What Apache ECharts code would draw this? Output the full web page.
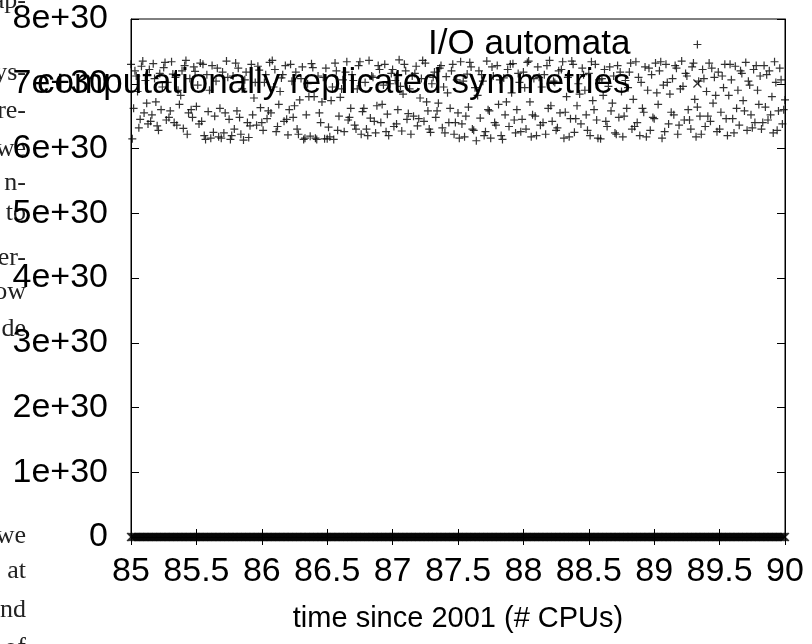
<!DOCTYPE html>
<html>
<head>
<meta charset="utf-8">
<title>I/O automata vs. computationally replicated symmetries</title>
<script src="https://cdn.jsdelivr.net/npm/echarts@6/dist/echarts.min.js"></script>
<style>
  html, body { margin: 0; padding: 0; background: #fff; }
  #chart { width: 812px; height: 644px; }
</style>
</head>
<body>
<div id="chart"></div>
<script>
// x positions shared by both series (time since 2001)
const timeX = [
  85.00, 85.01, 85.02, 85.04, 85.05, 85.07, 85.08, 85.10, 85.11, 85.13,
  85.14, 85.16, 85.17, 85.19, 85.20, 85.22, 85.23, 85.25, 85.27, 85.28,
  85.30, 85.31, 85.33, 85.34, 85.36, 85.37, 85.39, 85.40, 85.42, 85.44,
  85.45, 85.47, 85.48, 85.50, 85.51, 85.53, 85.54, 85.56, 85.58, 85.59,
  85.61, 85.62, 85.64, 85.65, 85.67, 85.68, 85.70, 85.71, 85.73, 85.75,
  85.76, 85.78, 85.79, 85.81, 85.82, 85.84, 85.85, 85.87, 85.89, 85.90,
  85.92, 85.93, 85.95, 85.96, 85.98, 85.99, 86.01, 86.03, 86.04, 86.06,
  86.07, 86.09, 86.10, 86.12, 86.13, 86.15, 86.17, 86.18, 86.20, 86.21,
  86.23, 86.24, 86.26, 86.27, 86.29, 86.31, 86.32, 86.34, 86.35, 86.37,
  86.38, 86.40, 86.41, 86.43, 86.45, 86.46, 86.48, 86.49, 86.51, 86.52,
  86.54, 86.55, 86.57, 86.59, 86.60, 86.62, 86.63, 86.65, 86.66, 86.68,
  86.69, 86.71, 86.73, 86.74, 86.76, 86.77, 86.79, 86.80, 86.82, 86.83,
  86.85, 86.87, 86.88, 86.90, 86.91, 86.93, 86.94, 86.96, 86.97, 86.99,
  87.01, 87.02, 87.04, 87.05, 87.07, 87.08, 87.10, 87.11, 87.13, 87.15,
  87.16, 87.18, 87.19, 87.21, 87.22, 87.24, 87.25, 87.27, 87.29, 87.30,
  87.32, 87.33, 87.35, 87.36, 87.38, 87.39, 87.41, 87.43, 87.44, 87.46,
  87.47, 87.49, 87.50, 87.52, 87.53, 87.55, 87.57, 87.58, 87.60, 87.61,
  87.63, 87.64, 87.66, 87.67, 87.69, 87.71, 87.72, 87.74, 87.75, 87.77,
  87.78, 87.80, 87.81, 87.83, 87.85, 87.86, 87.88, 87.89, 87.91, 87.92,
  87.94, 87.95, 87.97, 87.99, 88.00, 88.02, 88.03, 88.05, 88.06, 88.08,
  88.09, 88.11, 88.13, 88.14, 88.16, 88.17, 88.19, 88.20, 88.22, 88.23,
  88.25, 88.27, 88.28, 88.30, 88.31, 88.33, 88.34, 88.36, 88.37, 88.39,
  88.41, 88.42, 88.44, 88.45, 88.47, 88.48, 88.50, 88.51, 88.53, 88.55,
  88.56, 88.58, 88.59, 88.61, 88.62, 88.64, 88.65, 88.67, 88.69, 88.70,
  88.72, 88.73, 88.75, 88.76, 88.78, 88.79, 88.81, 88.83, 88.84, 88.86,
  88.87, 88.89, 88.90, 88.92, 88.93, 88.95, 88.97, 88.98, 89.00, 89.01,
  89.03, 89.04, 89.06, 89.07, 89.09, 89.11, 89.12, 89.14, 89.15, 89.17,
  89.18, 89.20, 89.21, 89.23, 89.25, 89.26, 89.28, 89.29, 89.31, 89.32,
  89.34, 89.35, 89.37, 89.39, 89.40, 89.42, 89.43, 89.45, 89.46, 89.48,
  89.49, 89.51, 89.53, 89.54, 89.56, 89.57, 89.59, 89.60, 89.62, 89.63,
  89.65, 89.67, 89.68, 89.70, 89.71, 89.73, 89.74, 89.76, 89.77, 89.79,
  89.81, 89.82, 89.84, 89.85, 89.87, 89.88, 89.90, 89.91, 89.93, 89.95,
  89.96, 89.98, 90.00,
  // second sweep
  85.03, 85.06, 85.09, 85.12, 85.15, 85.18, 85.21, 85.24, 85.26, 85.29,
  85.32, 85.35, 85.38, 85.41, 85.43, 85.46, 85.49, 85.52, 85.55, 85.57,
  85.60, 85.63, 85.66, 85.69, 85.72, 85.74, 85.77, 85.80, 85.83, 85.86,
  85.88, 85.91, 85.94, 85.97, 86.00, 86.02, 86.05, 86.08, 86.11, 86.14,
  86.16, 86.19, 86.22, 86.25, 86.28, 86.30, 86.33, 86.36, 86.39, 86.42,
  86.44, 86.47, 86.50, 86.53, 86.56, 86.58, 86.61, 86.64, 86.67, 86.70,
  86.72, 86.75, 86.78, 86.81, 86.84, 86.86, 86.89, 86.92, 86.95, 86.98,
  87.00, 87.03, 87.06, 87.09, 87.12, 87.14, 87.17, 87.20, 87.23, 87.26,
  87.28, 87.31, 87.34, 87.37, 87.40, 87.42, 87.45, 87.48, 87.51, 87.54,
  87.56, 87.59, 87.62, 87.65, 87.68, 87.70, 87.73, 87.76, 87.79, 87.82,
  87.84, 87.87, 87.90, 87.93, 87.96, 87.98, 88.01, 88.04, 88.07, 88.10,
  88.12, 88.15, 88.18, 88.21, 88.24, 88.26, 88.29, 88.32, 88.35, 88.38,
  88.40, 88.43, 88.46, 88.49, 88.52, 88.54, 88.57, 88.60, 88.63, 88.66,
  88.68, 88.71, 88.74, 88.77, 88.80, 88.82, 88.85, 88.88, 88.91, 88.94,
  88.96, 88.99, 89.02, 89.05, 89.08, 89.10, 89.13, 89.16, 89.19, 89.22,
  89.24, 89.27, 89.30, 89.33, 89.36, 89.38, 89.41, 89.44, 89.47, 89.50,
  89.52, 89.55, 89.58, 89.61, 89.64, 89.66, 89.69, 89.72, 89.75, 89.78,
  89.80, 89.83, 89.86, 89.89, 89.92, 89.94, 89.97, 89.99
];

// "I/O automata" values, same order as timeX
const ioAutomata = [
  7.30e30, 6.15e30, 6.62e30, 7.12e30, 6.88e30, 6.45e30, 7.27e30, 6.55e30, 7.05e30, 6.38e30,
  7.22e30, 6.52e30, 7.31e30, 6.72e30, 6.35e30, 7.16e30, 6.60e30, 7.25e30, 6.44e30, 7.02e30,
  6.58e30, 7.34e30, 6.40e30, 7.10e30, 6.90e30, 6.68e30, 7.20e30, 6.31e30, 7.36e30, 6.55e30,
  7.08e30, 6.48e30, 7.26e30, 6.65e30, 6.98e30, 7.32e30, 6.42e30, 6.20e30, 7.14e30, 6.57e30,
  6.16e30, 7.28e30, 6.50e30, 7.04e30, 6.18e30, 6.62e30, 7.18e30, 6.24e30, 7.35e30, 6.45e30,
  6.14e30, 7.12e30, 6.30e30, 6.58e30, 7.24e30, 6.22e30, 6.92e30, 7.06e30, 6.40e30, 6.17e30,
  7.30e30, 6.52e30, 7.02e30, 6.36e30, 7.21e30, 6.63e30, 6.28e30, 7.14e30, 6.46e30, 7.33e30,
  6.55e30, 6.95e30, 7.22e30, 6.34e30, 6.68e30, 7.09e30, 6.42e30, 7.28e30, 6.21e30, 6.60e30,
  7.04e30, 6.48e30, 7.18e30, 6.30e30, 6.75e30, 7.26e30, 6.14e30, 6.52e30, 7.00e30, 6.19e30,
  7.31e30, 6.80e30, 6.16e30, 7.12e30, 6.40e30, 6.72e30, 6.15e30, 7.24e30, 6.33e30, 6.18e30,
  6.95e30, 6.14e30, 7.20e30, 6.50e30, 6.79e30, 7.06e30, 6.26e30, 7.34e30, 6.44e30, 6.62e30,
  7.14e30, 6.36e30, 6.92e30, 7.28e30, 6.22e30, 6.57e30, 7.02e30, 6.30e30, 7.36e30, 6.47e30,
  7.10e30, 6.24e30, 6.66e30, 7.22e30, 6.40e30, 6.98e30, 7.30e30, 6.53e30, 6.20e30, 7.16e30,
  6.34e30, 7.05e30, 6.60e30, 7.37e30, 6.27e30, 6.84e30, 7.20e30, 6.45e30, 6.92e30, 7.12e30,
  6.50e30, 7.27e30, 6.35e30, 6.78e30, 7.08e30, 6.42e30, 7.32e30, 6.58e30, 6.25e30, 7.00e30,
  7.18e30, 6.48e30, 6.70e30, 7.24e30, 6.32e30, 6.95e30, 7.11e30, 6.40e30, 6.62e30, 7.30e30,
  6.22e30, 7.06e30, 6.55e30, 7.34e30, 6.38e30, 6.18e30, 7.15e30, 6.64e30, 7.26e30, 6.30e30,
  6.94e30, 6.12e30, 7.20e30, 6.47e30, 7.04e30, 6.26e30, 7.35e30, 6.58e30, 6.16e30, 7.12e30,
  6.40e30, 7.28e30, 6.68e30, 6.20e30, 7.09e30, 6.52e30, 7.22e30, 6.34e30, 6.86e30, 7.31e30,
  6.24e30, 6.60e30, 7.02e30, 6.45e30, 7.18e30, 6.30e30, 7.33e30, 6.72e30, 6.18e30, 7.08e30,
  6.50e30, 7.26e30, 6.36e30, 6.95e30, 7.14e30, 6.22e30, 6.62e30, 7.36e30, 6.42e30, 7.04e30,
  6.28e30, 7.20e30, 6.55e30, 7.34e30, 6.16e30, 6.80e30, 7.10e30, 6.46e30, 7.35e30, 6.25e30,
  6.66e30, 7.00e30, 6.38e30, 7.24e30, 6.90e30, 6.52e30, 7.16e30, 6.20e30, 6.74e30, 7.30e30,
  6.44e30, 7.06e30, 6.15e30, 6.82e30, 7.22e30, 6.34e30, 6.96e30, 6.58e30, 7.12e30, 6.24e30,
  7.28e30, 6.48e30, 6.88e30, 6.18e30, 7.05e30, 6.62e30, 7.18e30, 6.30e30, 6.76e30, 7.34e30,
  6.40e30, 6.20e30, 7.02e30, 6.56e30, 7.26e30, 6.90e30, 6.28e30, 7.14e30, 6.46e30, 7.32e30,
  6.68e30, 7.20e30, 6.16e30, 6.98e30, 7.30e30, 6.38e30, 6.84e30, 7.08e30, 6.52e30, 7.24e30,
  6.22e30, 6.92e30, 7.35e30, 6.44e30, 7.12e30, 6.60e30, 6.30e30, 7.26e30, 6.76e30, 6.18e30,
  7.04e30, 6.50e30, 7.22e30, 6.34e30, 6.88e30, 7.32e30, 6.42e30, 6.70e30, 7.10e30, 6.26e30,
  7.18e30, 6.56e30, 6.94e30, 7.30e30, 6.20e30, 6.82e30, 7.06e30, 6.46e30, 7.27e30, 6.62e30,
  6.36e30, 7.16e30, 6.74e30, 7.33e30, 6.28e30, 6.98e30, 6.52e30, 7.22e30, 6.40e30, 6.90e30,
  7.12e30, 6.30e30, 7.28e30, 6.64e30, 6.44e30, 7.20e30, 6.80e30, 6.24e30, 7.02e30, 6.58e30,
  7.24e30, 6.38e30, 6.75e30,
  // second sweep
  7.20e30, 6.32e30, 7.35e30, 6.70e30, 6.42e30, 7.08e30, 6.28e30, 6.95e30, 7.33e30, 6.48e30,
  7.15e30, 6.36e30, 6.82e30, 7.28e30, 6.22e30, 6.60e30, 7.19e30, 6.38e30, 7.30e30, 6.14e30,
  6.90e30, 6.25e30, 7.24e30, 6.16e30, 6.55e30, 7.10e30, 6.20e30, 7.32e30, 6.48e30, 6.13e30,
  7.18e30, 6.35e30, 6.78e30, 7.27e30, 6.40e30, 7.02e30, 6.58e30, 7.36e30, 6.26e30, 6.88e30,
  7.14e30, 6.45e30, 7.30e30, 6.66e30, 6.22e30, 7.08e30, 6.16e30, 6.80e30, 7.25e30, 6.14e30,
  6.55e30, 7.10e30, 6.15e30, 6.74e30, 7.32e30, 6.28e30, 6.92e30, 7.18e30, 6.48e30, 7.05e30,
  6.30e30, 7.34e30, 6.62e30, 6.20e30, 7.12e30, 6.42e30, 7.28e30, 6.68e30, 6.26e30, 7.00e30,
  7.22e30, 6.38e30, 6.96e30, 7.30e30, 6.54e30, 6.22e30, 7.16e30, 6.46e30, 7.36e30, 6.72e30,
  6.30e30, 7.10e30, 6.58e30, 7.28e30, 6.24e30, 6.86e30, 7.20e30, 6.40e30, 6.16e30, 7.04e30,
  6.50e30, 7.33e30, 6.28e30, 6.82e30, 7.14e30, 6.20e30, 6.60e30, 7.26e30, 6.36e30, 7.06e30,
  6.14e30, 6.72e30, 7.30e30, 6.44e30, 7.16e30, 6.26e30, 6.94e30, 7.35e30, 6.52e30, 6.20e30,
  7.10e30, 6.40e30, 7.28e30, 6.66e30, 7.02e30, 6.32e30, 7.22e30, 6.56e30, 6.18e30, 7.30e30,
  6.46e30, 6.84e30, 7.14e30, 6.28e30, 7.34e30, 6.60e30, 6.16e30, 7.08e30, 6.42e30, 7.26e30,
  6.70e30, 6.22e30, 7.18e30, 6.50e30, 6.94e30, 7.32e30, 6.34e30, 7.10e30, 6.62e30, 6.18e30,
  7.24e30, 6.48e30, 6.86e30, 7.34e30, 6.26e30, 7.02e30, 6.56e30, 7.28e30, 6.36e30, 6.96e30,
  7.16e30, 6.44e30, 7.32e30, 6.64e30, 6.22e30, 7.08e30, 6.50e30, 7.24e30, 6.82e30, 6.30e30,
  7.12e30, 6.46e30, 7.30e30, 6.24e30, 6.90e30, 7.20e30, 6.58e30, 7.04e30, 6.32e30, 7.28e30,
  6.68e30, 6.40e30, 7.14e30, 6.52e30, 7.34e30, 6.28e30, 7.06e30, 6.60e30
];

// "computationally replicated symmetries" sits flat on zero
const replicatedLevel = 0;

const xTickLabels = ['85', '85.5', '86', '86.5', '87', '87.5', '88', '88.5', '89', '89.5', '90'];
const yTickLabels = ['0', '1e+30', '2e+30', '3e+30', '4e+30', '5e+30', '6e+30', '7e+30', '8e+30'];

const seriesNames = ['I/O automata', 'computationally replicated symmetries'];

// word ends from the neighbouring page column, cut off at the left edge
const marginWords = ['ap-', 'ys-', 're-', 'we', 'n-', 'to', 'er-', 'ow', 'de', 'we', 'at', 'nd', 'of'];
const marginBaselines = [8, 80, 118, 156, 190, 220, 265, 299, 336, 543, 578, 617, 655];

const FONT = '"Liberation Sans", Arial, Helvetica, sans-serif';
const plusPath = 'path://M0,4L8,4M4,0L4,8';
const crossPath = 'path://M0,0L8,8M0,8L8,0';

const chart = echarts.init(document.getElementById('chart'), null, { renderer: 'canvas' });

const markStyle = {
  color: '#000',
  borderColor: '#000',
  borderWidth: 1.2,
};

const axisLine = { show: true, lineStyle: { color: '#000', width: 1 } };
const axisTick = { show: true, inside: true, length: 8, lineStyle: { color: '#000', width: 1 } };

const option = {
  animation: false,
  backgroundColor: '#fff',
  textStyle: { fontFamily: FONT },
  grid: {
    left: 131,
    right: 27,
    top: 19,
    bottom: 107,
    show: true,
    borderColor: '#000',
    borderWidth: 1,
  },
  legend: {
    orient: 'vertical',
    align: 'right',
    right: 110,
    top: 27,
    padding: 0,
    itemGap: 4,
    itemWidth: 66,
    itemHeight: 8,
    selectedMode: false,
    textStyle: { fontFamily: FONT, fontSize: 35, color: '#000' },
    itemStyle: { color: '#000', borderColor: '#000', borderWidth: 1.2 },
    data: [
      { name: seriesNames[0], icon: 'path://M0,4M58,4L66,4M62,0L62,8' },
      { name: seriesNames[1], icon: 'path://M0,4M58,0L66,8M58,8L66,0' },
    ],
  },
  graphic: marginWords.map((word, i) => ({
    type: 'text',
    z: -10,
    silent: true,
    style: {
      text: word,
      x: 26,
      y: marginBaselines[i] + 6,
      textAlign: 'right',
      textVerticalAlign: 'bottom',
      font: '26px "Liberation Serif", "DejaVu Serif", serif',
      fill: '#222',
    },
  })),
  xAxis: [
    {
      type: 'value',
      position: 'bottom',
      min: 85,
      max: 90,
      interval: 0.5,
      axisLine,
      axisTick,
      splitLine: { show: false },
      axisLabel: {
        color: '#000',
        fontSize: 34,
        fontFamily: FONT,
        margin: 18,
        formatter: (v, i) => xTickLabels[i],
      },
      name: 'time since 2001 (# CPUs)',
      nameLocation: 'middle',
      nameGap: 67,
      nameTextStyle: { color: '#000', fontSize: 29, fontFamily: FONT },
    },
    {
      type: 'value',
      position: 'top',
      min: 85,
      max: 90,
      interval: 0.5,
      axisLine,
      axisTick,
      splitLine: { show: false },
      axisLabel: { show: false },
    },
  ],
  yAxis: [
    {
      type: 'value',
      position: 'left',
      min: 0,
      max: 8e30,
      interval: 1e30,
      axisLine,
      axisTick,
      splitLine: { show: false },
      axisLabel: {
        color: '#000',
        fontSize: 34,
        fontFamily: FONT,
        margin: 23,
        formatter: (v, i) => yTickLabels[i],
      },
    },
    {
      type: 'value',
      position: 'right',
      min: 0,
      max: 8e30,
      interval: 1e30,
      axisLine,
      axisTick,
      splitLine: { show: false },
      axisLabel: { show: false },
    },
  ],
  series: [
    {
      name: seriesNames[0],
      type: 'scatter',
      xAxisIndex: 0,
      yAxisIndex: 0,
      symbol: plusPath,
      symbolSize: 8,
      clip: false,
      itemStyle: markStyle,
      emphasis: { disabled: true },
      data: timeX.map((x, i) => [x, ioAutomata[i]]),
    },
    {
      name: seriesNames[1],
      type: 'scatter',
      xAxisIndex: 0,
      yAxisIndex: 0,
      symbol: crossPath,
      symbolSize: 8,
      clip: false,
      itemStyle: markStyle,
      emphasis: { disabled: true },
      data: timeX.map((x) => [x, replicatedLevel]),
    },
  ],
};

chart.setOption(option);
window.addEventListener('resize', () => chart.resize());
</script>
</body>
</html>
